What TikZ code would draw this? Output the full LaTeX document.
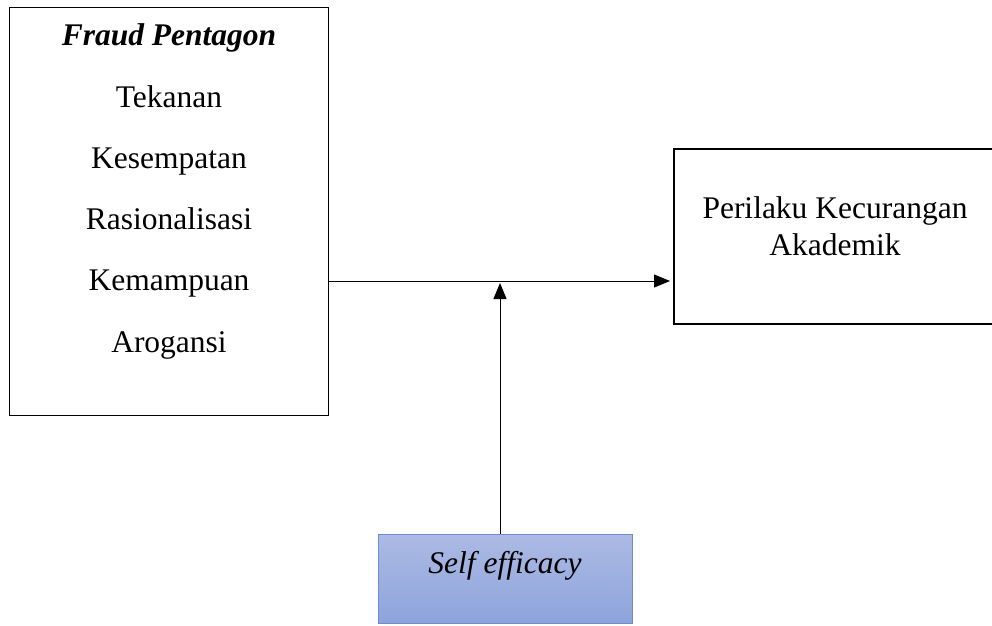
\documentclass[tikz,border=0pt]{standalone}
\usepackage{fontspec}
\setmainfont{Liberation Serif}
\usetikzlibrary{arrows.meta}
\definecolor{seTop}{RGB}{172,186,228}
\definecolor{seBot}{RGB}{141,164,220}
\definecolor{seLine}{RGB}{110,140,205}
\tikzset{
  boxA/.style={draw=black, line width=1pt, inner sep=0pt},
  boxB/.style={draw=black, line width=2pt, inner sep=0pt},
  boxC/.style={draw=seLine, line width=1pt, inner sep=0pt, top color=seTop, bottom color=seBot},
  txt/.style={anchor=base, inner sep=0pt, font=\fontsize{31.5pt}{36pt}\selectfont},
  arr/.style={line width=1pt, -{Triangle[length=16pt,width=13pt]}}
}
\begin{document}
\begin{tikzpicture}[x=1pt,y=-1pt]
\useasboundingbox (0,0) rectangle (992,625);
\clip (0,0) rectangle (992,625);
\node[boxA, minimum width=319pt, minimum height=408pt] (fp) at (168.5,211) {};
\node[txt] (t0) at (169,45) {\bfseries\itshape Fraud Pentagon};
\node[txt] (t1) at (169,107) {Tekanan};
\node[txt] (t2) at (169,168) {Kesempatan};
\node[txt] (t3) at (169,229) {Rasionalisasi};
\node[txt] (t4) at (169,290) {Kemampuan};
\node[txt] (t5) at (169,352) {Arogansi};
\node[boxB, minimum width=326pt, minimum height=175pt] (pk) at (837,236.5) {};
\node[txt] (p1) at (835,218) {Perilaku Kecurangan};
\node[txt] (p2) at (835,255) {Akademik};
\node[boxC, minimum width=254pt, minimum height=89pt] (se) at (505,578.5) {};
\node[txt] (s1) at (505,573) {\itshape Self efficacy};
\coordinate (hit) at (500,283);
\draw[arr, shorten >=3pt] ([yshift=-70pt]fp.east) -- ([yshift=-44.5pt]pk.west);
\draw[arr] ([xshift=-5pt]se.north) -- (hit);
\end{tikzpicture}
\end{document}
